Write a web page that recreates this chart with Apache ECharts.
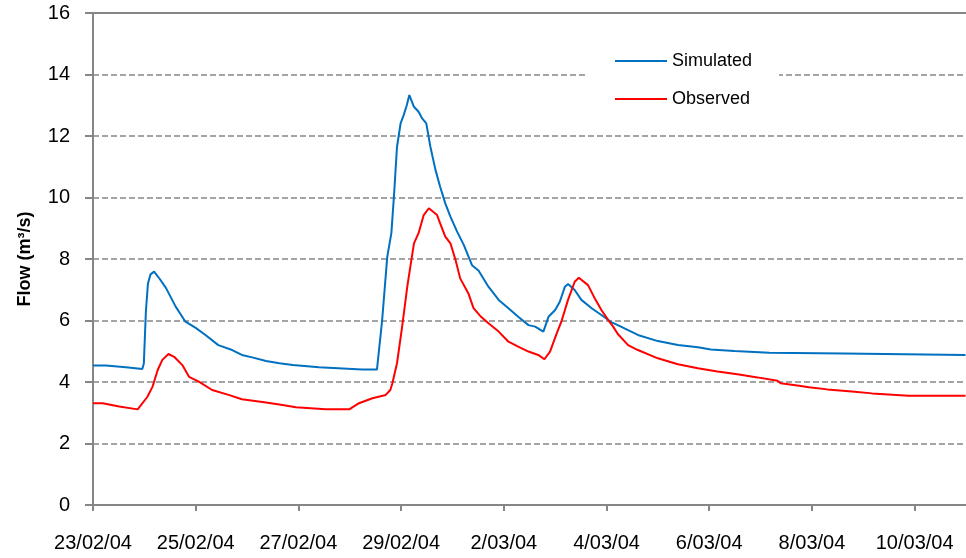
<!DOCTYPE html>
<html>
<head>
<meta charset="utf-8">
<script src="https://cdn.jsdelivr.net/npm/echarts@6/dist/echarts.min.js"></script>
<style>
  html, body { margin: 0; padding: 0; background: #fff; }
  #chart { width: 966px; height: 558px; }
</style>
</head>
<body>
<div id="chart"></div>
<script>
// x = days since 23/02/04 00:00
const tickLabels = ["23/02/04", "25/02/04", "27/02/04", "29/02/04", "2/03/04",
  "4/03/04", "6/03/04", "8/03/04", "10/03/04"];

const simDays = [0, 0.25, 0.26, 0.64, 0.65, 0.96, 0.99, 1.03, 1.07, 1.12, 1.19, 1.30, 1.42, 1.61, 1.80, 2.00,
  2.19, 2.44, 2.71, 2.90, 3.10, 3.37, 3.63, 3.89, 4.40, 5.24, 5.53, 5.63, 5.73, 5.81, 5.86,
  5.92, 5.99, 6.05, 6.11, 6.16, 6.25, 6.34, 6.41, 6.49, 6.57, 6.67, 6.76, 6.86, 6.96, 7.09,
  7.22, 7.38, 7.51, 7.70, 7.90, 8.09, 8.28, 8.48, 8.61, 8.77, 8.87, 9.00, 9.09, 9.19, 9.25,
  9.38, 9.51, 9.71, 9.90, 10.09, 10.22, 10.61, 11.00, 11.39, 11.78, 12.03, 12.49, 13.17,
  14.62, 14.64, 16.99];
const simFlow = [4.54, 4.54, 4.48, 4.48, 4.42, 4.42, 4.6, 6.3, 7.2, 7.5, 7.59, 7.35, 7.06, 6.45, 5.96, 5.76,
  5.53, 5.2, 5.04, 4.88, 4.80, 4.68, 4.61, 4.55, 4.48, 4.41, 4.41, 6.0, 8.07, 8.84, 10.03,
  11.65, 12.41, 12.68, 13.0, 13.33, 12.95, 12.79, 12.57, 12.41, 11.65, 10.89, 10.35, 9.81, 9.38, 8.89,
  8.46, 7.8, 7.62, 7.1, 6.67, 6.4, 6.12, 5.85, 5.8, 5.64, 6.12, 6.34, 6.61, 7.1, 7.19,
  6.99, 6.67, 6.4, 6.18, 5.95, 5.85, 5.53, 5.33, 5.2, 5.13, 5.06, 5.01, 4.95,
  4.93, 4.88, 4.88];

const obsDays = [0, 0.19, 0.20, 0.51, 0.87, 1.06, 1.16, 1.26, 1.35, 1.47, 1.58, 1.74, 1.87, 2.06,
  2.32, 2.64, 2.90, 3.37, 3.69, 3.95, 4.53, 4.99, 5.18, 5.44, 5.70, 5.79, 5.83, 5.92, 6.02,
  6.12, 6.25, 6.34, 6.44, 6.54, 6.57, 6.70, 6.76, 6.86, 6.96, 7.06, 7.15, 7.31, 7.41, 7.54,
  7.70, 7.90, 8.09, 8.28, 8.48, 8.67, 8.79, 8.90, 9.03, 9.12, 9.25, 9.38, 9.46, 9.64, 9.77,
  9.90, 10.03, 10.13, 10.22, 10.42, 10.61, 11.00, 11.39, 11.78, 12.16, 12.55, 12.94, 13.33,
  13.39, 13.75, 13.94, 14.30, 14.78, 15.17, 15.88, 16.99];
const obsFlow = [3.31, 3.31, 3.25, 3.20, 3.11, 3.52, 3.85, 4.39, 4.72, 4.91, 4.82, 4.55, 4.17, 4.01,
  3.74, 3.58, 3.44, 3.33, 3.25, 3.18, 3.11, 3.11, 3.31, 3.47, 3.58, 3.74, 3.96, 4.61, 5.8,
  7.1, 8.51, 8.84, 9.43, 9.65, 9.65, 9.43, 9.16, 8.73, 8.51, 7.97, 7.37, 6.88, 6.4, 6.15,
  5.91, 5.64, 5.31, 5.15, 4.99, 4.88, 4.74, 4.99, 5.58, 5.96, 6.67, 7.26, 7.39, 7.15, 6.72,
  6.34, 6.02, 5.8, 5.56, 5.2, 5.04, 4.77, 4.58, 4.45, 4.34, 4.25, 4.15, 4.04,
  3.96, 3.88, 3.83, 3.76, 3.69, 3.63, 3.55, 3.55];

const axisGrey = "#868686";
const labelFont = "Liberation Sans, Arial, sans-serif";

const chart = echarts.init(document.getElementById("chart"));
chart.setOption({
  animation: false,
  backgroundColor: "#fff",
  grid: { left: 93, top: 13, width: 876, height: 492 },
  legend: {
    orient: "vertical",
    left: 587,
    top: 36,
    padding: [16, 27, 16, 28],
    backgroundColor: "#fff",
    icon: "rect",
    itemWidth: 52,
    itemHeight: 2,
    itemGap: 20,
    textStyle: { fontFamily: labelFont, fontSize: 18, color: "#000" },
    data: ["Simulated", "Observed"]
  },
  xAxis: [{
    type: "value",
    min: 0,
    max: 17,
    interval: 2,
    axisLine: { lineStyle: { color: axisGrey, width: 2 } },
    axisTick: { length: 6, lineStyle: { color: axisGrey, width: 2 } },
    splitLine: { show: false },
    axisLabel: {
      margin: 28,
      fontFamily: labelFont,
      fontSize: 20,
      color: "#000",
      showMaxLabel: false,
      formatter: v => tickLabels[v / 2] || ""
    }
  }, {
    type: "value",
    position: "top",
    min: 0,
    max: 17,
    axisLine: { show: true, lineStyle: { color: axisGrey, width: 2 } },
    axisTick: { show: false },
    axisLabel: { show: false },
    splitLine: { show: false }
  }],
  yAxis: {
    type: "value",
    min: 0,
    max: 16,
    interval: 2,
    name: "Flow (m³/s)",
    nameLocation: "middle",
    nameGap: 59,
    nameTextStyle: { fontFamily: labelFont, fontSize: 18, fontWeight: "bold", color: "#000" },
    axisLine: { show: true, lineStyle: { color: axisGrey, width: 2 } },
    axisTick: { show: true, length: 8, lineStyle: { color: axisGrey, width: 2 } },
    axisLabel: { margin: 23, fontFamily: labelFont, fontSize: 20, color: "#000" },
    splitLine: { lineStyle: { color: axisGrey, width: 1.6, type: [6, 3] } }
  },
  series: [{
    name: "Simulated",
    type: "line",
    symbol: "none",
    color: "#0070C0",
    lineStyle: { width: 2 },
    data: simDays.map((d, i) => [d, simFlow[i]])
  }, {
    name: "Observed",
    type: "line",
    symbol: "none",
    color: "#FF0000",
    lineStyle: { width: 2 },
    data: obsDays.map((d, i) => [d, obsFlow[i]])
  }]
});
</script>
</body>
</html>
